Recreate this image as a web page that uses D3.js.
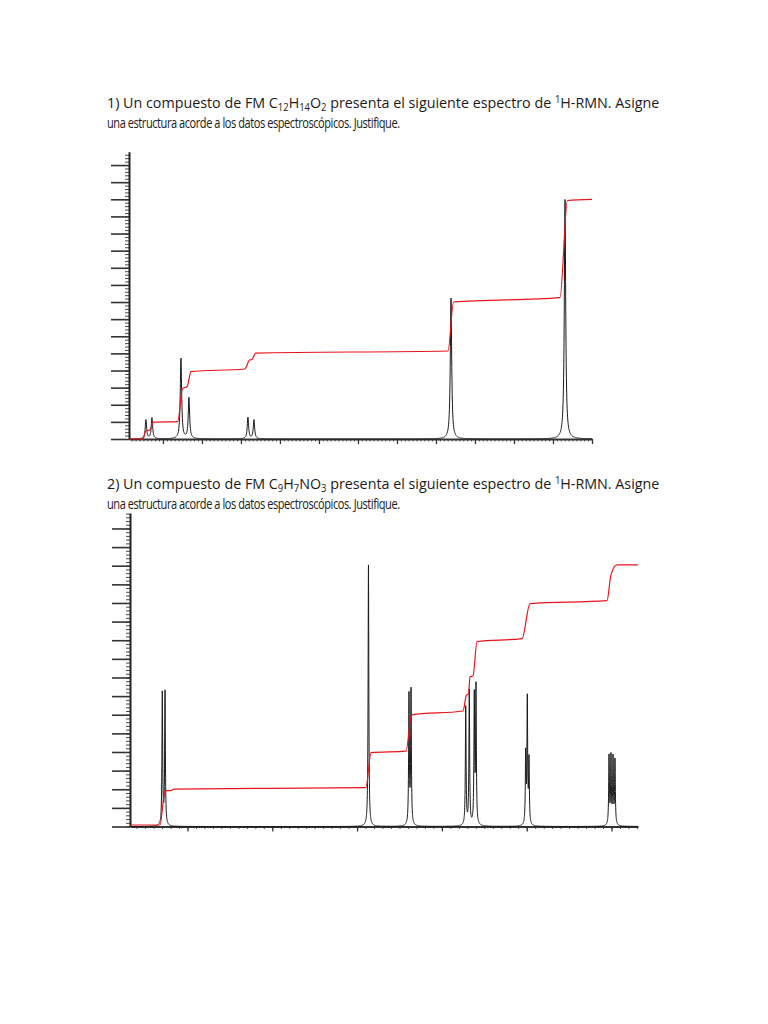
<!DOCTYPE html>
<html>
<head>
<meta charset="utf-8">
<script src="https://cdn.jsdelivr.net/npm/d3@7"></script>
<style>
body { margin: 0; background: #fff; }
svg { display: block; }
.hdr { font-family: "Comic Sans MS", "Open Sans", sans-serif; fill: #1a1a1a; }
</style>
</head>
<body>
<script>

// ---- spectrum 1 (C12H14O2) ----
var peaks1Ppm    = [11.436, 11.282, 10.538, 10.333, 8.821, 8.667, 3.615, 0.692];
var peaks1Height = [1.11, 1.23, 4.70, 2.39, 1.26, 1.11, 8.23, 13.99];
var integral1Ppm   = [11.87, 11.51, 11.44, 11.33, 11.24, 10.62, 10.50, 10.38, 10.28, 8.90, 8.78, 8.72, 8.62, 3.69, 3.55, 0.82, 0.63, 0];
var integral1Level = [0, 0, 0.47, 0.53, 0.99, 1.02, 2.95, 3.07, 3.94, 4.09, 4.61, 4.64, 5.02, 5.14, 8.00, 8.26, 13.93, 13.99];

// ---- spectrum 2 (C9H7NO3) ----
var peaks2Ppm    = [6.297, 6.265, 3.866, 3.388, 3.364, 2.719, 2.677, 2.618, 2.598, 2.012, 1.993, 1.973, 1.029, 1.006, 0.982, 0.959];
var peaks2Height = [7.11, 7.17, 14.04, 6.95, 7.19, 6.36, 7.22, 6.85, 7.33, 3.73, 6.68, 3.41, 3.68, 3.62, 3.54, 3.46];
var integral2Ppm   = [6.678, 6.324, 6.265, 6.194, 6.159, 3.896, 3.836, 3.423, 3.358, 2.751, 2.710, 2.686, 2.669, 2.633, 2.586, 2.055, 1.961, 1.053, 1.006, 0.935, 0.6875];
var integral2Level = [0.08, 0.08, 1.93, 1.93, 2.01, 2.09, 3.97, 4.05, 5.99, 6.20, 7.06, 7.11, 8.03, 8.08, 9.93, 10.09, 11.97, 12.13, 13.51, 14.04, 14.04];

// ---- header texts ----
var header1 = [["1) Un compuesto de FM C", "n"], ["12", "sub"], ["H", "n"], ["14", "sub"], ["O", "n"], ["2", "sub"],
               [" presenta el siguiente espectro de ", "n"], ["1", "sup"], ["H-RMN. Asigne", "n"]];
var header2 = [["2) Un compuesto de FM C", "n"], ["9", "sub"], ["H", "n"], ["7", "sub"], ["NO", "n"], ["3", "sub"],
               [" presenta el siguiente espectro de ", "n"], ["1", "sup"], ["H-RMN. Asigne", "n"]];
var headerLine2 = "una estructura acorde a los datos espectroscópicos. Justifique.";


var width = 768, height = 1024;

var svg = d3.select("body").append("svg")
	.attr("width", width)
	.attr("height", height);

svg.append("rect")
	.attr("width", width)
	.attr("height", height)
	.attr("fill", "#fff");

var fontSize = 15;
var textLeft = 107;

function writeLine(segs, yBase, target, tight) {
	var t = svg.append("text")
		.attr("class", "hdr")
		.style("font-size", fontSize + "px")
		.style("letter-spacing", tight ? "-0.6px" : null);
	var shift = 0;
	segs.forEach(function(s) {
		var want = s[1] === "sub" ? 2.5 : (s[1] === "sup" ? -5 : 0);
		var ts = t.append("tspan").attr("dy", want - shift).text(s[0]);
		if (s[1] !== "n") ts.style("font-size", (fontSize * 0.66) + "px");
		shift = want;
	});
	// squeeze or stretch to the width the line takes in the original page
	var sx = target / t.node().getComputedTextLength();
	t.attr("transform", "translate(" + textLeft + "," + yBase + ") scale(" + sx + ",1)");
	return t;
}

writeLine(header1, 108, 553);
writeLine([[headerLine2, "n"]], 128, 293, true);
writeLine(header2, 489, 553);
writeLine([[headerLine2, "n"]], 509, 293, true);


function drawSpectrum(cfg) {
	var x = d3.scaleLinear().domain(cfg.ppmRange).range([cfg.left, cfg.right]);
	var y = d3.scaleLinear().domain([0, cfg.yMax]).range([cfg.bottom, cfg.top]);
	var g = svg.append("g");

	var lo = cfg.ppmRange[1], hi = cfg.ppmRange[0];

	// y axis: minor ticks, then major ticks with the axis line
	g.append("g")
		.attr("transform", "translate(" + cfg.left + ",0)")
		.call(d3.axisLeft(y)
			.tickValues(d3.range(0, cfg.yMax, 0.2))
			.tickSize(4).tickSizeOuter(0).tickFormat(""))
		.call(function(a) {
			a.select(".domain").remove();
			a.selectAll("line").attr("stroke", "#333").attr("stroke-width", 0.9);
		});

	g.append("g")
		.attr("transform", "translate(" + cfg.left + ",0)")
		.call(d3.axisLeft(y)
			.tickValues(d3.range(0, Math.floor(cfg.yMax) + 1, 1))
			.tickSize(18).tickSizeOuter(0).tickFormat(""))
		.call(function(a) {
			a.select(".domain").attr("stroke", "#222").attr("stroke-width", 2);
			a.selectAll("line").attr("stroke", "#333").attr("stroke-width", 1.6);
		});

	// x axis
	g.append("g")
		.attr("transform", "translate(0," + cfg.bottom + ")")
		.call(d3.axisBottom(x)
			.tickValues(d3.range(Math.ceil(lo * 10), Math.floor(hi * 10) + 1).map(function(v) { return v / 10; }))
			.tickSize(2.5).tickSizeOuter(0).tickFormat(""))
		.call(function(a) {
			a.select(".domain").remove();
			a.selectAll("line").attr("stroke", "#444").attr("stroke-width", 0.9);
		});

	g.append("g")
		.attr("transform", "translate(0," + cfg.bottom + ")")
		.call(d3.axisBottom(x)
			.tickValues(d3.range(Math.ceil(lo), Math.floor(hi) + 1))
			.tickSize(5).tickSizeOuter(0).tickFormat(""))
		.call(function(a) {
			a.select(".domain").attr("stroke", "#333").attr("stroke-width", 2);
			a.selectAll("line").attr("stroke", "#333").attr("stroke-width", 1.3);
		});

	// spectrum trace: lorentzian lines at the read peak positions
	var step = (hi - lo) / ((cfg.right - cfg.left) * cfg.samplesPerPx);
	var xs = d3.range(lo, hi, step).concat(cfg.peaks).concat([hi]).sort(d3.ascending);
	var pts = xs.map(function(p) {
		return [p, d3.sum(cfg.peaks, function(c, i) {
			var u = (p - c) / cfg.hw;
			return cfg.heights[i] / (1 + u * u);
		})];
	});

	g.append("path")
		.datum(pts)
		.attr("fill", "none")
		.attr("stroke", "#1a1a1a")
		.attr("stroke-width", 1)
		.attr("d", d3.line()
			.x(function(d) { return x(d[0]); })
			.y(function(d) { return y(d[1]); }));

	// integral trace
	var integ = cfg.intPpm.map(function(p, i) { return [p, cfg.intLevel[i]]; });
	g.append("path")
		.datum(integ)
		.attr("fill", "none")
		.attr("stroke", "#e8141b")
		.attr("stroke-width", 1.2)
		.attr("d", d3.line()
			.curve(d3.curveMonotoneX)
			.x(function(d) { return x(d[0]); })
			.y(function(d) { return y(d[1]); }));
}

drawSpectrum({
	ppmRange: [11.87, 0], left: 129, right: 592,
	yMax: 16.78, bottom: 439, top: 151.7,
	peaks: peaks1Ppm, heights: peaks1Height, hw: 0.021, samplesPerPx: 5,
	intPpm: integral1Ppm, intLevel: integral1Level
});

drawSpectrum({
	ppmRange: [6.678, 0.6875], left: 130, right: 638,
	yMax: 16.83, bottom: 826.5, top: 513,
	peaks: peaks2Ppm, heights: peaks2Height, hw: 0.005, samplesPerPx: 10,
	intPpm: integral2Ppm, intLevel: integral2Level
});

</script>
</body>
</html>
